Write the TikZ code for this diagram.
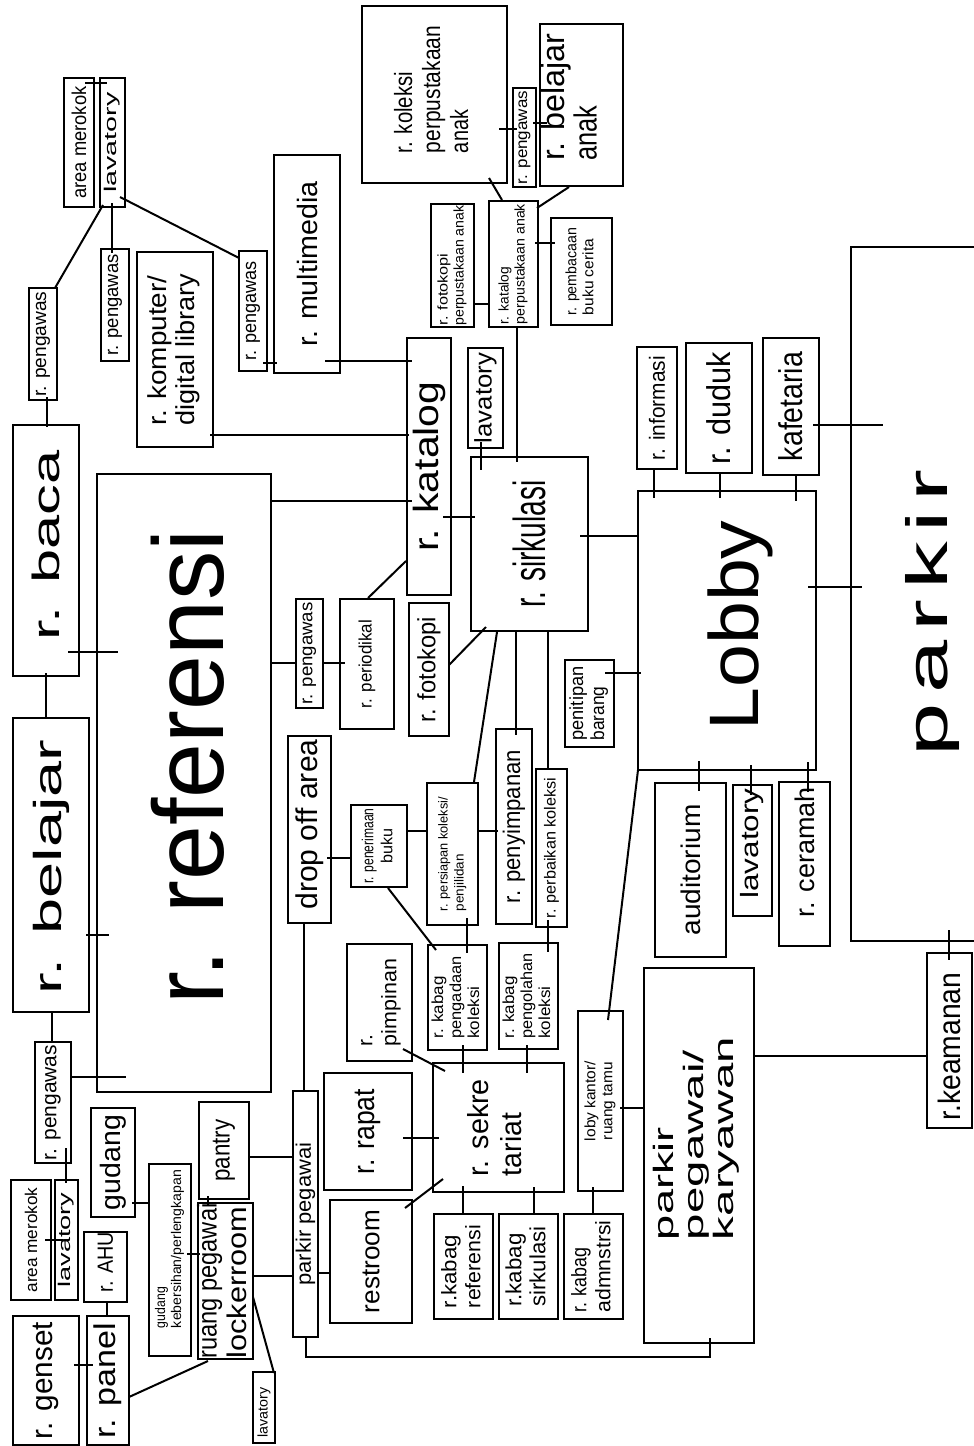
\documentclass[tikz,border=0pt]{standalone}
\usepackage{fontspec}
\setmainfont{Liberation Sans}
\usepackage{graphicx}
\usetikzlibrary{calc}

% a room: name, left, top, right, bottom (y grows downwards)
\newcommand\room[5]{%
  \pgfmathsetmacro\rmw{#4-#2}%
  \pgfmathsetmacro\rmh{#5-#3}%
  \node[room, minimum width=\rmw pt, minimum height=\rmh pt] (#1) at ({(#2+#4)/2},{(#3+#5)/2}) {};}
% text stretched to a given length, height kept
\newcommand\fitw[2]{\resizebox{#1pt}{\height}{#2}}
\newcommand\sline[3]{{\fontsize{#1pt}{#1pt}\selectfont\fitw{#2}{#3}}}
% horizontal link: left node, right node, y, overshoot into each
\newcommand\hlink[5]{\draw[link] ($(#1.east|-0,#3)+(-#4,0)$) -- ($(#2.west|-0,#3)+(#5,0)$);}
% vertical link: upper node, lower node, x, overshoot into each
\newcommand\vlink[5]{\draw[link] ($(#1.south-|#3,0)+(0,-#4)$) -- ($(#2.north-|#3,0)+(0,#5)$);}

\tikzset{
  room/.style={draw, rectangle, line width=2pt, inner sep=0pt, outer sep=0pt},
  link/.style={line width=2pt},
  txt/.style={rotate=90, inner sep=0pt, outer sep=0pt}
}

\begin{document}
\begin{tikzpicture}[x=1pt, y=-1pt]
\useasboundingbox (0,0) rectangle (974,1446);
\clip (0,0) rectangle (974,1446);
\fill[white] (0,0) rectangle (974,1446);

% ---------- rooms ----------
\room{amrk1}{64}{78}{94}{207}
\room{lav1}{100}{78}{125}{207}
\room{peng1}{29}{288}{57}{400}
\room{peng2}{101}{249}{129}{361}
\room{komp}{137}{252}{213}{447}
\room{peng3}{239}{251}{267}{371}
\room{multi}{274}{155}{340}{373}
\room{baca}{13}{425}{79}{676}
\room{belajar}{13}{718}{89}{1012}
\room{ref}{97}{474}{271}{1092}
\room{peng4}{296}{599}{323}{708}
\room{period}{340}{599}{394}{729}
\room{katalog}{407}{338}{451}{595}
\room{fotok}{409}{603}{449}{736}
\room{kolanak}{362}{6}{507}{183}
\room{peng5}{513}{88}{536}{187}
\room{belanak}{540}{24}{623}{186}
\room{fotanak}{431}{204}{474}{327}
\room{katanak}{489}{201}{538}{327}
\room{pembac}{551}{218}{612}{325}
\room{lav2}{468}{348}{503}{448}
\room{sirk}{471}{457}{588}{631}
\room{info}{637}{347}{677}{469}
\room{duduk}{686}{343}{752}{473}
\room{kafe}{763}{338}{819}{475}
\room{parkir}{851}{247}{1000}{941}
\room{lobby}{638}{491}{816}{770}
\room{penitip}{565}{660}{614}{747}
\room{audit}{655}{783}{726}{957}
\room{lav3}{733}{785}{772}{916}
\room{ceramah}{779}{782}{830}{946}
\room{dropoff}{288}{736}{331}{923}
\room{peneri}{351}{805}{407}{887}
\room{persiap}{427}{783}{478}{925}
\room{penyimp}{496}{729}{532}{924}
\room{perbaik}{536}{769}{567}{927}
\room{pimp}{347}{944}{412}{1061}
\room{pengad}{428}{945}{487}{1050}
\room{pengol}{499}{943}{558}{1049}
\room{lobyk}{578}{1011}{623}{1191}
\room{rapat}{324}{1073}{412}{1190}
\room{sekre}{433}{1063}{564}{1192}
\room{restroom}{330}{1200}{412}{1323}
\room{kref}{434}{1214}{493}{1319}
\room{ksirk}{499}{1214}{558}{1319}
\room{kadm}{564}{1214}{623}{1319}
\room{ppk}{644}{968}{754}{1343}
\room{keamanan}{927}{953}{972}{1128}
\room{peng6}{35}{1042}{71}{1163}
\room{amrk2}{11}{1180}{51}{1300}
\room{lav4}{55}{1180}{78}{1300}
\room{gudang}{91}{1108}{135}{1217}
\room{ahu}{84}{1232}{127}{1302}
\room{genset}{13}{1316}{79}{1445}
\room{panel}{87}{1316}{129}{1445}
\room{gkeb}{149}{1164}{191}{1356}
\room{pantry}{199}{1102}{249}{1199}
\room{ruangpeg}{198}{1203}{253}{1359}
\room{parkpeg}{293}{1091}{318}{1337}
\room{lav5}{253}{1372}{275}{1443}

% ---------- labels ----------
\node[txt] (amrk1-t) at (amrk1) {\sline{20}{112}{area merokok}};
\node[txt] (lav1-t) at (lav1) {\sline{17}{100}{lavatory}};
\node[txt] (peng1-t) at (peng1) {\sline{19}{105}{r. pengawas}};
\node[txt] (peng2-t) at (peng2) {\sline{19}{101}{r. pengawas}};
\node[txt] (komp-t) at (komp) {\fontsize{26pt}{28pt}\selectfont\begin{tabular}{@{}l@{}}\fitw{150}{r. komputer/}\\\fitw{152}{digital library}\end{tabular}};
\node[txt] (peng3-t) at (peng3) {\sline{19}{99}{r. pengawas}};
\node[txt] (multi-t) at (multi) {\sline{28}{165}{r. multimedia}};
\node[txt] (baca-t) at ($(baca)+(0,-5)$) {\sline{38}{190}{r. baca}};
\node[txt] (belajar-t) at ($(belajar)+(0,2)$) {\sline{39}{255}{r. belajar}};
\node[txt] (ref-t) at ($(ref)+(4,-16)$) {\sline{100}{475}{r. referensi}};
\node[txt] (peng4-t) at (peng4) {\sline{18}{102}{r. pengawas}};
\node[txt] (period-t) at (period) {\sline{18}{88}{r. periodikal}};
\node[txt] (katalog-t) at (katalog) {\sline{35}{170}{r. katalog}};
\node[txt] (fotok-t) at (fotok) {\sline{25}{105}{r. fotokopi}};
\node[txt] (kolanak-t) at ($(kolanak)+(0,-5)$) {\fontsize{25pt}{28pt}\selectfont\begin{tabular}{@{}l@{}}\fitw{81}{r. koleksi}\\\fitw{127}{perpustakaan}\\\fitw{43}{anak}\end{tabular}};
\node[txt] (peng5-t) at (peng5) {\sline{16}{93}{r. pengawas}};
\node[txt] (belanak-t) at ($(belanak)+(-8,-8)$) {\fontsize{32pt}{30pt}\selectfont\begin{tabular}{@{}l@{}}\fitw{127}{r. belajar}\\\fitw{55}{anak}\end{tabular}};
\node[txt] (fotanak-t) at (fotanak) {\fontsize{14pt}{16pt}\selectfont\begin{tabular}{@{}l@{}}\fitw{72}{r. fotokopi}\\\fitw{120}{perpustakaan anak}\end{tabular}};
\node[txt] (katanak-t) at (katanak) {\fontsize{14pt}{16pt}\selectfont\begin{tabular}{@{}l@{}}\fitw{57}{r. katalog}\\\fitw{120}{perpustakaan anak}\end{tabular}};
\node[txt] (pembac-t) at (pembac) {\fontsize{15pt}{17pt}\selectfont\begin{tabular}{@{}l@{}}\fitw{87}{r. pembacaan}\\\fitw{76}{buku cerita}\end{tabular}};
\node[txt] (lav2-t) at (lav2) {\sline{24}{90}{lavatory}};
\node[txt] (sirk-t) at (sirk) {\sline{45}{127}{r. sirkulasi}};
\node[txt] (info-t) at (info) {\sline{22}{104}{r. informasi}};
\node[txt] (duduk-t) at (duduk) {\sline{33}{112}{r. duduk}};
\node[txt] (kafe-t) at (kafe) {\sline{33}{109}{kafetaria}};
\node[txt] (parkir-t) at ($(parkir)+(7,19)$) {\sline{58}{287}{\addfontfeature{LetterSpace=10}parkir}};
\node[txt] (lobby-t) at ($(lobby)+(13,-5)$) {\sline{70}{210}{Lobby}};
\node[txt] (penitip-t) at (penitip) {\fontsize{19pt}{21pt}\selectfont\begin{tabular}{@{}l@{}}\fitw{74}{penitipan}\\\fitw{54}{barang}\end{tabular}};
\node[txt] (audit-t) at (audit) {\sline{27}{131}{auditorium}};
\node[txt] (lav3-t) at ($(lav3)+(0,-7)$) {\sline{25}{110}{lavatory}};
\node[txt] (ceramah-t) at ($(ceramah)+(0,-12)$) {\sline{27}{130}{r. ceramah}};
\node[txt] (dropoff-t) at ($(dropoff)+(0,-5)$) {\sline{30}{170}{drop off area}};
\node[txt] (peneri-t) at (peneri) {\fontsize{16pt}{19pt}\selectfont\begin{tabular}{@{}c@{}}\fitw{75}{r. penerimaan}\\\fitw{35}{buku}\end{tabular}};
\node[txt] (persiap-t) at (persiap) {\fontsize{13pt}{16pt}\selectfont\begin{tabular}{@{}l@{}}\fitw{114}{r. persiapan koleksi/}\\\fitw{57}{penjilidan}\end{tabular}};
\node[txt] (penyimp-t) at (penyimp) {\sline{24}{153}{r. penyimpanan}};
\node[txt] (perbaik-t) at (perbaik) {\sline{16}{140}{r. perbaikan koleksi}};
\node[txt] (pimp-t) at (pimp) {\fontsize{21pt}{24pt}\selectfont\begin{tabular}{@{}l@{}}r.\\\fitw{87}{pimpinan}\end{tabular}};
\node[txt] (pengad-t) at (pengad) {\fontsize{16pt}{18pt}\selectfont\begin{tabular}{@{}l@{}}\fitw{62}{r. kabag}\\\fitw{82}{pengadaan}\\\fitw{52}{koleksi}\end{tabular}};
\node[txt] (pengol-t) at (pengol) {\fontsize{16pt}{18pt}\selectfont\begin{tabular}{@{}l@{}}\fitw{62}{r. kabag}\\\fitw{85}{pengolahan}\\\fitw{52}{koleksi}\end{tabular}};
\node[txt] (lobyk-t) at (lobyk) {\fontsize{15pt}{17pt}\selectfont\begin{tabular}{@{}c@{}}\fitw{80}{loby kantor/}\\\fitw{78}{ruang tamu}\end{tabular}};
\node[txt] (rapat-t) at (rapat) {\sline{30}{85}{r. rapat}};
\node[txt] (sekre-t) at (sekre) {\fontsize{29pt}{33pt}\selectfont\begin{tabular}{@{}l@{}}\fitw{97}{r. sekre}\\\fitw{63}{tariat}\end{tabular}};
\node[txt] (restroom-t) at (restroom) {\sline{26}{103}{restroom}};
\node[txt] (kref-t) at (kref) {\fontsize{21pt}{24pt}\selectfont\begin{tabular}{@{}l@{}}\fitw{73}{r.kabag}\\\fitw{83}{referensi}\end{tabular}};
\node[txt] (ksirk-t) at (ksirk) {\fontsize{22pt}{24pt}\selectfont\begin{tabular}{@{}l@{}}\fitw{73}{r.kabag}\\\fitw{80}{sirkulasi}\end{tabular}};
\node[txt] (kadm-t) at (kadm) {\fontsize{21pt}{24pt}\selectfont\begin{tabular}{@{}l@{}}\fitw{65}{r. kabag}\\\fitw{92}{admnstrsi}\end{tabular}};
\node[txt] (ppk-t) at ($(ppk)+(-2,-17)$) {\fontsize{28pt}{30pt}\selectfont\begin{tabular}{@{}l@{}}\fitw{113}{parkir}\\\fitw{190}{pegawai/}\\\fitw{203}{karyawan}\end{tabular}};
\node[txt] (keamanan-t) at ($(keamanan)+(0,6)$) {\sline{31}{148}{r.keamanan}};
\node[txt] (peng6-t) at (peng6) {\sline{21}{115}{r. pengawas}};
\node[txt] (amrk2-t) at (amrk2) {\sline{17}{105}{area merokok}};
\node[txt] (lav4-t) at (lav4) {\sline{17}{95}{lavatory}};
\node[txt] (gudang-t) at (gudang) {\sline{28}{95}{gudang}};
\node[txt] (ahu-t) at ($(ahu)+(0,-5)$) {\sline{22}{60}{r. AHU}};
\node[txt] (genset-t) at (genset) {\sline{30}{117}{r. genset}};
\node[txt] (panel-t) at (panel) {\sline{30}{115}{r. panel}};
\node[txt] (gkeb-t) at ($(gkeb)+(0,-11)$) {\fontsize{14pt}{16pt}\selectfont\begin{tabular}{@{}l@{}}\fitw{41}{gudang}\\\fitw{158}{kebersihan/perlengkapan}\end{tabular}};
\node[txt] (pantry-t) at (pantry) {\sline{26}{62}{pantry}};
\node[txt] (ruangpeg-t) at (ruangpeg) {\fontsize{27pt}{30pt}\selectfont\begin{tabular}{@{}l@{}}\fitw{155}{ruang pegawai}\\\fitw{152}{lockerroom}\end{tabular}};
\node[txt] (parkpeg-t) at (parkpeg) {\sline{21}{143}{parkir pegawai}};
\node[txt] (lav5-t) at ($(lav5)+(0,5)$) {\sline{14}{50}{lavatory}};

% ---------- links ----------
\hlink{amrk1}{lav1}{83}{9}{7}
\draw[link] ($(lav1.south west)+(3,-2)$) -- ($(peng1.north east)+(-2,0)$);
\vlink{lav1}{peng2}{112}{4}{4}
\draw[link] ($(lav1.south east)+(-5,-10)$) -- ($(peng3.north west)+(0,7)$);
\hlink{peng3}{multi}{363}{4}{3}
\vlink{peng1}{baca}{47}{3}{2}
\hlink{komp}{katalog}{435}{3}{2}
\hlink{multi}{katalog}{361}{15}{5}
\vlink{baca}{belajar}{46}{3}{1}
\hlink{baca}{ref}{652}{11}{21}
\hlink{belajar}{ref}{935}{3}{12}
\vlink{belajar}{peng6}{52}{0}{0}
\hlink{peng6}{ref}{1077}{0}{29}
\vlink{peng6}{lav4}{66}{15}{3}
\hlink{amrk2}{lav4}{1240}{6}{8}
\hlink{gudang}{gkeb}{1203}{3}{0}
\hlink{gkeb}{ruangpeg}{1254}{4}{2}
\vlink{ahu}{panel}{107}{0}{0}
\hlink{genset}{panel}{1365}{5}{6}
\draw[link] ($(ruangpeg.south west)+(10,2)$) -- (panel.east|-0,1397);
\draw[link] (ruangpeg.east|-0,1297) -- ($(lav5.north east)+(-1,1)$);
\vlink{pantry}{ruangpeg}{208}{3}{3}
\hlink{pantry}{parkpeg}{1157}{0}{0}
\hlink{ruangpeg}{parkpeg}{1276}{0}{0}
\hlink{parkpeg}{restroom}{1273}{0}{0}
\vlink{dropoff}{parkpeg}{304}{0}{0}
\hlink{dropoff}{peneri}{858}{4}{1}
\hlink{ref}{peng4}{663}{0}{0}
\hlink{peng4}{period}{663}{0}{5}
\hlink{ref}{katalog}{501}{0}{5}
\draw[link] ($(period.north west)+(28,-1)$) -- ($(katalog.west|-0,561)+(-1,0)$);
\hlink{katalog}{sirk}{517}{8}{4}
\draw[link] (fotok.east|-0,665) -- ($(sirk.south west)+(15,-4)$);
\vlink{lav2}{sirk}{481}{6}{13}
\vlink{katanak}{sirk}{517}{0}{5}
\hlink{kolanak}{peng5}{129}{8}{4}
\hlink{peng5}{belanak}{123}{3}{7}
\draw[link] ($(kolanak.south west)+(127,-5)$) -- ($(katanak.north west)+(13,-1)$);
\draw[link] ($(belanak.south west)+(29,1)$) -- ($(katanak.north east)+(-1,7)$);
\hlink{fotanak}{katanak}{304}{0}{0}
\hlink{katanak}{pembac}{243}{3}{4}
\hlink{sirk}{lobby}{536}{8}{0}
\vlink{info}{lobby}{654}{0}{7}
\vlink{duduk}{lobby}{720}{0}{7}
\vlink{kafe}{lobby}{796}{0}{10}
\hlink{kafe}{parkir}{425}{6}{32}
\hlink{lobby}{parkir}{587}{8}{11}
\hlink{penitip}{lobby}{673}{9}{3}
\vlink{lobby}{audit}{699}{9}{8}
\vlink{lobby}{lav3}{751}{5}{10}
\vlink{lobby}{ceramah}{808}{8}{10}
\vlink{parkir}{keamanan}{949}{11}{7}
\draw[link] (lobby.south west) -- ($(lobyk.north west)+(30,9)$);
\hlink{lobyk}{ppk}{1108}{3}{1}
\hlink{ppk}{keamanan}{1056}{0}{0}
\vlink{lobyk}{kadm}{593}{4}{1}
\draw[link] ($(sirk.south west)+(26,1)$) -- ($(persiap.north east)+(-4,-1)$);
\vlink{sirk}{penyimp}{516}{0}{6}
\vlink{sirk}{perbaik}{548}{0}{1}
\hlink{peneri}{persiap}{831}{0}{0}
\hlink{persiap}{penyimp}{831}{0}{2}
\draw[link] ($(peneri.south west)+(37,1)$) -- ($(pengad.north west)+(8,5)$);
\vlink{persiap}{pengad}{467}{7}{8}
\vlink{perbaik}{pengol}{548}{7}{9}
\draw[link] ($(pimp.south east)+(-9,-12)$) -- ($(sekre.north west)+(12,8)$);
\vlink{pengad}{sekre}{463}{5}{10}
\vlink{pengol}{sekre}{527}{4}{10}
\hlink{rapat}{sekre}{1138}{9}{6}
\draw[link] ($(restroom.north east)+(-7,8)$) -- ($(sekre.south west)+(10,-13)$);
\vlink{sekre}{kref}{463}{6}{1}
\vlink{sekre}{ksirk}{534}{5}{1}
\draw[link] (parkpeg.south) -- ++(0,20) -| ($(ppk.south)+(11,-5)$);
\end{tikzpicture}
\end{document}
